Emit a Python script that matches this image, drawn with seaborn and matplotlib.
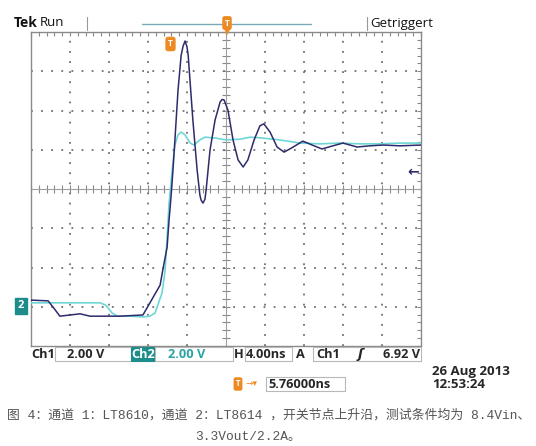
import numpy as np
import pandas as pd
import matplotlib
matplotlib.use("Agg")
import matplotlib.pyplot as plt
import seaborn as sns
from matplotlib.patches import Rectangle

# ---- data (horizontal: divisions 0..10, 4 ns/div; vertical: divisions 0..8, 2 V/div)
ch1_x = [0.00, 0.44, 0.62, 0.74, 1.00, 1.26, 1.51, 1.77, 2.28, 2.87, 3.05, 3.31, 3.38,
         3.49, 3.54, 3.59, 3.64, 3.69, 3.77, 3.85, 3.90, 3.95, 4.00, 4.03, 4.15, 4.26,
         4.33, 4.36, 4.41, 4.46, 4.49, 4.59, 4.72, 4.85, 4.90, 4.95, 5.05, 5.18, 5.31, 5.44,
         5.56, 5.72, 5.87, 5.97, 6.13, 6.31, 6.49, 6.69, 6.97, 7.21, 7.46, 7.74, 8.00,
         8.36, 8.69, 9.03, 9.46, 10.0]
ch1_y = [1.17, 1.15, 0.92, 0.76, 0.79, 0.82, 0.76, 0.76, 0.76, 0.79, 1.10, 1.55, 1.94,
         2.52, 3.21, 3.80, 4.48, 5.25, 6.52, 7.41, 7.64, 7.77, 7.62, 7.41, 5.76, 4.48,
         3.85, 3.72, 3.64, 3.74, 3.97, 4.99, 5.76, 6.22, 6.28, 6.27, 6.01, 5.25, 4.74, 4.56,
         4.74, 5.25, 5.61, 5.66, 5.45, 5.07, 4.94, 5.05, 5.22, 5.12, 5.02, 5.10, 5.17,
         5.07, 5.10, 5.12, 5.10, 5.12]

ch2_x = [0.00, 1.77, 1.92, 2.08, 2.21, 2.54, 2.87, 3.05, 3.18, 3.36, 3.44, 3.49, 3.54,
         3.62, 3.69, 3.77, 3.85, 3.95, 4.08, 4.18, 4.33, 4.46, 4.72, 5.00, 5.36, 5.62,
         5.92, 6.38, 6.90, 7.41, 7.92, 8.44, 8.95, 9.46, 10.0]
ch2_y = [1.10, 1.10, 1.04, 0.84, 0.76, 0.76, 0.74, 0.76, 0.84, 1.35, 1.94, 2.78, 3.64,
         4.48, 5.12, 5.38, 5.45, 5.38, 5.17, 5.12, 5.25, 5.32, 5.30, 5.25, 5.27, 5.32,
         5.30, 5.25, 5.17, 5.15, 5.17, 5.15, 5.15, 5.17, 5.17]

top_labels = ["Tek", "Run", "Getriggert"]
ch_scale = ["2.00 V", "2.00 V"]
h_scale = "4.00ns"
trig_info = ["Ch1", "6.92 V"]
trig_pos = "5.76000ns"
date_lines = ["26 Aug 2013", "12:53:24"]
caption1 = "图 4：通道 1：LT8610，通道 2：LT8614 ，开关节点上升沿，测试条件均为 8.4Vin、"
caption2 = "3.3Vout/2.2A。"

NAVY = "#2d2b6b"
CYAN = "#6fd6d6"
TEAL = "#1f8c8c"
ORANGE = "#ee8a22"
GRID = "#707070"

sns.set_style("white")
plt.rcParams['font.family'] = ['Open Sans', 'DejaVu Sans']

W, H = 536, 446
fig = plt.figure(figsize=(W / 100, H / 100), dpi=100)
fig.patch.set_facecolor("white")


def P(x, y):
    return (x / W, 1 - y / H)


ax = fig.add_axes([31 / W, 1 - 346 / H, 390 / W, 314 / H])
ax.set_xlim(0, 10)
ax.set_ylim(0, 8)

# graticule
for i in range(1, 10):
    if i != 5:
        ax.axvline(i, color=GRID, lw=1.3, ls=(0, (1.0, 4.6)), zorder=1)
for j in range(1, 8):
    if j != 4:
        ax.axhline(j, color=GRID, lw=1.3, ls=(0, (1.0, 4.6)), zorder=1)
ax.axvline(5, color="#a0a0a0", lw=0.8, zorder=1)
ax.axhline(4, color="#a0a0a0", lw=0.8, zorder=1)

ax.set_xticks(np.arange(0, 10.001, 0.2))
ax.set_yticks(np.arange(0, 8.001, 0.2))
ax.tick_params(direction="in", length=3, width=0.8, color="#888888", top=True, right=True,
               labelbottom=False, labelleft=False)
for s in ax.spines.values():
    s.set_color("#8a8a8a")
    s.set_linewidth(1.0)

sx = ax.secondary_xaxis(0.5)
sx.set_xticks(np.arange(0, 10.001, 0.2))
sx.tick_params(direction="inout", length=6, width=0.8, color="#888888", labelbottom=False,
               labeltop=False)
sx.spines["bottom"].set_visible(False)
sx.spines["top"].set_visible(False)
sy = ax.secondary_yaxis(0.5)
sy.set_yticks(np.arange(0, 8.001, 0.2))
sy.tick_params(direction="inout", length=6, width=0.8, color="#888888", labelleft=False,
               labelright=False)
sy.spines["left"].set_visible(False)
sy.spines["right"].set_visible(False)

# traces
df2 = pd.DataFrame({"t": ch2_x, "v": ch2_y})
df1 = pd.DataFrame({"t": ch1_x, "v": ch1_y})
sns.lineplot(data=df2, x="t", y="v", ax=ax, color=CYAN, lw=1.2, sort=False, zorder=3)
sns.lineplot(data=df1, x="t", y="v", ax=ax, color=NAVY, lw=1.1, sort=False, zorder=4)
ax.set_xlabel("")
ax.set_ylabel("")

# markers inside graticule
fig.text(*P(170.5, 44), "T", color="white", fontsize=6, fontweight="bold", ha="center",
         va="center", bbox=dict(boxstyle="round,pad=0.25", fc=ORANGE, ec=ORANGE))
fig.text(*P(413, 172), "←", color=NAVY, fontsize=10, fontweight="bold", ha="center",
         va="center", family="DejaVu Sans")
fig.text(*P(21, 306), "2", color="white", fontsize=8, fontweight="bold", ha="center",
         va="center", bbox=dict(boxstyle="square,pad=0.25", fc=TEAL, ec=TEAL))

# top bar
fig.text(*P(14, 23), top_labels[0], fontsize=10, fontweight="bold", ha="left", va="center",
         color="#111111")
fig.text(*P(40, 23), top_labels[1], fontsize=9.5, ha="left", va="center", color="#111111")
fig.text(*P(370, 23), top_labels[2], fontsize=9.5, ha="left", va="center", color="#111111")
fig.add_artist(plt.Line2D([87 / W, 87 / W], [1 - 17 / H, 1 - 30 / H], color="#999999", lw=0.8))
fig.add_artist(plt.Line2D([367 / W, 367 / W], [1 - 17 / H, 1 - 30 / H], color="#999999", lw=0.8))
fig.add_artist(plt.Line2D([142 / W, 311 / W], [1 - 24 / H, 1 - 24 / H], color="#7aaab8", lw=1.0))
fig.text(*P(227, 23), "T", color="white", fontsize=6, fontweight="bold", ha="center",
         va="center", bbox=dict(boxstyle="round,pad=0.2", fc=ORANGE, ec=ORANGE))
fig.text(*P(227, 32), "▼", color=ORANGE, fontsize=6, ha="center", va="center",
         family="DejaVu Sans")

# bottom bar
def box(x0, x1, y0=347, y1=361, fc="white", ec="#b8b8b8"):
    fig.add_artist(Rectangle((x0 / W, 1 - y1 / H), (x1 - x0) / W, (y1 - y0) / H,
                             transform=fig.transFigure, fc=fc, ec=ec, lw=0.8))

box(55, 131)
box(131, 155, fc=TEAL, ec=TEAL)
box(155, 233)
box(245, 292)
box(313, 421)
yb = 354.5
FS = 9.2
fig.text(*P(31, yb), "Ch1", fontsize=FS, fontweight="bold", ha="left", va="center")
fig.text(*P(67, yb), ch_scale[0], fontsize=FS, fontweight="bold", ha="left", va="center")
fig.text(*P(143, yb), "Ch2", fontsize=FS, fontweight="bold", ha="center", va="center",
         color="white")
fig.text(*P(168, yb), ch_scale[1], fontsize=FS, fontweight="bold", ha="left", va="center",
         color="#2aa3a3")
fig.text(*P(234, yb), "H", fontsize=FS, fontweight="bold", ha="left", va="center")
fig.text(*P(246, yb), h_scale, fontsize=FS, fontweight="bold", ha="left", va="center")
fig.text(*P(300, yb), "A", fontsize=FS, fontweight="bold", ha="center", va="center")
fig.text(*P(316, yb), trig_info[0], fontsize=FS, fontweight="bold", ha="left", va="center")
fig.text(*P(360, yb), "ʃ", fontsize=9.5, fontweight="bold", ha="center", va="center",
         family="DejaVu Sans", style="italic")
fig.text(*P(420, yb), trig_info[1], fontsize=FS, fontweight="bold", ha="right", va="center")

fig.text(*P(432, 372), date_lines[0], fontsize=9.5, fontweight="bold", ha="left", va="center")
fig.text(*P(432, 384), date_lines[1], fontsize=9.5, fontweight="bold", ha="left", va="center")

fig.text(*P(238, 384), "T", color="white", fontsize=5.5, fontweight="bold", ha="center",
         va="center", bbox=dict(boxstyle="round,pad=0.2", fc=ORANGE, ec=ORANGE))
fig.text(*P(251, 384), "→▾", color=ORANGE, fontsize=6.5, ha="center", va="center",
         family="DejaVu Sans")
box(266, 345, 377, 391)
fig.text(*P(268, 384), trig_pos, fontsize=FS, fontweight="bold", ha="left", va="center")

# caption
CAPF = ["Liberation Mono", "Noto Sans CJK SC", "DejaVu Sans"]
fig.text(*P(269, 415), caption1, fontsize=9.25, ha="center", va="center", color="#555555",
         family=CAPF)
fig.text(*P(248, 437), caption2, fontsize=9.25, ha="center", va="center", color="#555555",
         family=CAPF)

fig.savefig("out.png", dpi=100)
